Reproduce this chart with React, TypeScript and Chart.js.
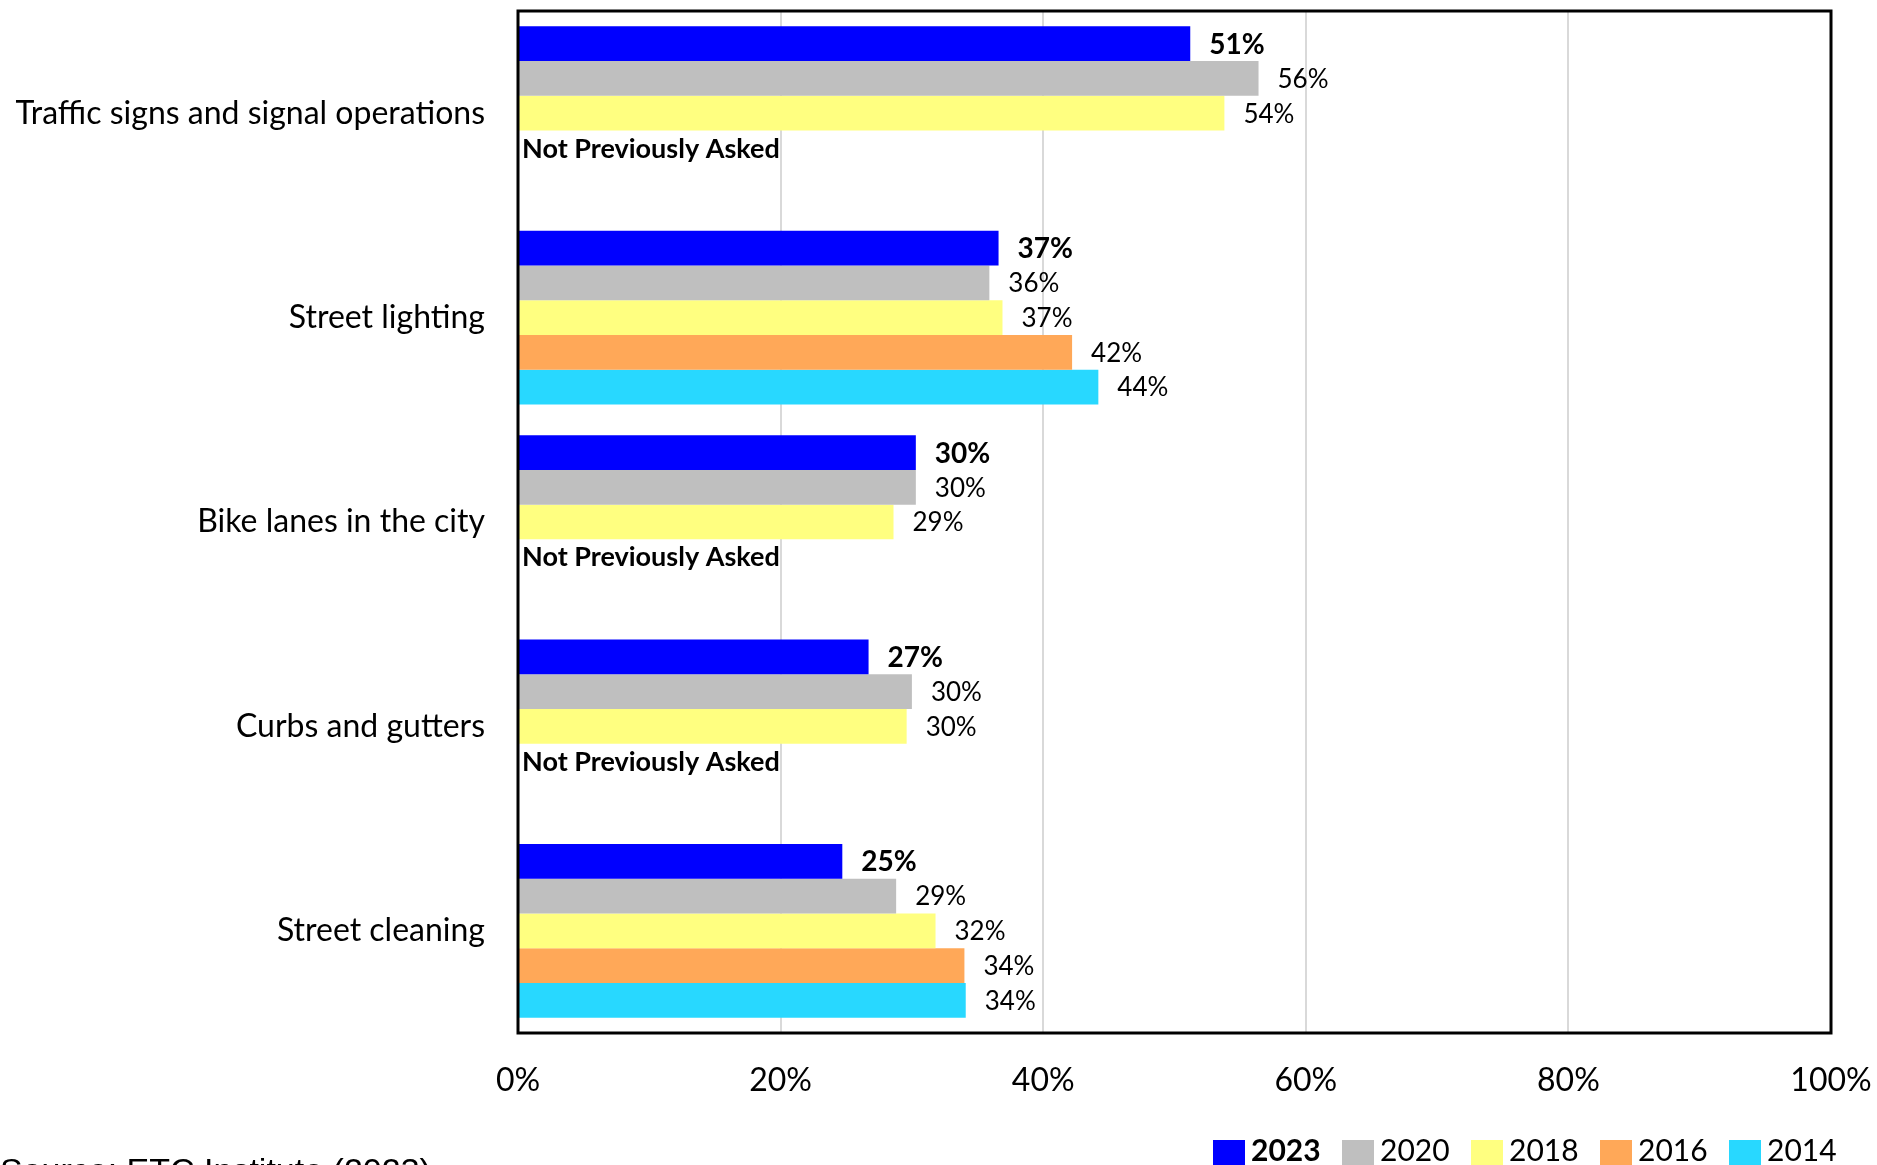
import React, { useEffect, useRef } from "react";
import { Chart, registerables } from "chart.js";

Chart.register(...registerables);

const categories = [
  "Traffic signs and signal operations",
  "Street lighting",
  "Bike lanes in the city",
  "Curbs and gutters",
  "Street cleaning",
];
const years = ["2023", "2020", "2018", "2016", "2014"];
const values2023 = [51.2, 36.6, 30.3, 26.7, 24.7];
const values2020 = [56.4, 35.9, 30.3, 30.0, 28.8];
const values2018 = [53.8, 36.9, 28.6, 29.6, 31.8];
const values2016 = [null, 42.2, null, null, 34.0];
const values2014 = [null, 44.2, null, null, 34.1];
const colors = ["#0000FF", "#BFBFBF", "#FFFF80", "#FFA858", "#28D8FF"];
const xTicks = [0, 20, 40, 60, 80, 100];
const notAskedText = "Not Previously Asked";
const sourceText = "Source: ETC Institute (2023)";

const FONT = "Lato, 'Open Sans', sans-serif";

const boxPlugin = {
  id: "plotBox",
  afterDatasetsDraw(chart: any) {
    const { ctx, chartArea } = chart;
    const a = chartArea;
    ctx.save();
    chart.data.datasets.forEach((ds: any, di: number) => {
      const meta = chart.getDatasetMeta(di);
      meta.data.forEach((el: any, i: number) => {
        const v = ds.data[i];
        if (v === null || v === undefined) return;
        ctx.font = (di === 0 ? "bold 28px " : "26px ") + FONT;
        ctx.fillStyle = "#000";
        ctx.textAlign = "left";
        ctx.textBaseline = "middle";
        ctx.fillText(Math.round(v) + "%", el.x + 19, el.y + 1);
      });
    });
    const m1 = chart.getDatasetMeta(1);
    const m2 = chart.getDatasetMeta(2);
    chart.data.datasets[3].data.forEach((v: any, i: number) => {
      if (v !== null && v !== undefined) return;
      const y = m2.data[i].y + (m2.data[i].y - m1.data[i].y);
      ctx.font = "bold 27px " + FONT;
      ctx.fillStyle = "#000";
      ctx.textAlign = "left";
      ctx.textBaseline = "middle";
      ctx.fillText(notAskedText, a.left + 4, y + 1);
    });
    ctx.strokeStyle = "#000";
    ctx.lineWidth = 3;
    ctx.strokeRect(a.left, a.top, a.right - a.left, a.bottom - a.top);
    ctx.restore();
  },
};

const zeroPad = (scale: any) => {
  scale.paddingLeft = 0;
  scale.paddingRight = 0;
  scale.paddingTop = 0;
  scale.paddingBottom = 0;
};

export default function App() {
  const ref = useRef<HTMLCanvasElement | null>(null);
  useEffect(() => {
    const data = [values2023, values2020, values2018, values2016, values2014];
    const chart = new Chart(ref.current as HTMLCanvasElement, {
      type: "bar",
      data: {
        labels: categories,
        datasets: years.map((y, i) => ({
          label: y,
          data: data[i],
          backgroundColor: colors[i],
          borderWidth: 0,
          categoryPercentage: 0.85,
          barPercentage: 1,
        })),
      },
      options: {
        indexAxis: "y",
        animation: false,
        responsive: false,
        layout: { padding: { left: 0, right: 46, top: 11, bottom: 52 } },
        plugins: { legend: { display: false }, tooltip: { enabled: false } },
        scales: {
          x: {
            min: 0,
            max: 100,
            afterBuildTicks: (scale: any) => {
              scale.ticks = xTicks.map((v) => ({ value: v }));
            },
            afterFit: (scale: any) => {
              scale.height = 80;
              zeroPad(scale);
            },
            grid: { color: "#D9D9D9", lineWidth: 2, drawTicks: false },
            border: { display: false },
            ticks: {
              padding: 28,
              color: "#000",
              font: { family: FONT, size: 32 },
              callback: (v: any) => v + "%",
            },
          },
          y: {
            afterFit: (scale: any) => {
              scale.width = 518;
              zeroPad(scale);
            },
            grid: { display: false, drawTicks: false },
            border: { display: false },
            ticks: {
              padding: 33,
              color: "#000",
              font: { family: FONT, size: 32 },
            },
          },
        },
      },
      plugins: [boxPlugin],
    } as any);
    return () => chart.destroy();
  }, []);

  return (
    <div
      style={{
        position: "fixed",
        left: 0,
        top: 0,
        width: 1877,
        height: 1165,
        overflow: "hidden",
        background: "#fff",
        fontFamily: FONT,
      }}
    >
      <canvas ref={ref} width={1877} height={1165} style={{ display: "block", width: 1877, height: 1165 }} />
      <div style={{ position: "absolute", left: 1213, top: 1134, display: "flex", lineHeight: 1 }}>
        {years.map((y, i) => (
          <div key={y} style={{ width: 129, display: "flex", alignItems: "flex-start" }}>
            <div style={{ width: 32, height: 26, marginTop: 6, marginRight: 6, background: colors[i] }} />
            <span style={{ fontSize: 30, fontWeight: i === 0 ? "bold" : "normal", color: "#000" }}>{y}</span>
          </div>
        ))}
      </div>
      <div
        style={{
          position: "absolute",
          left: 0,
          top: 1153,
          fontSize: 34,
          lineHeight: 1,
          color: "#000",
          whiteSpace: "nowrap",
          fontFamily: "'Liberation Sans', Arial, sans-serif",
        }}
      >
        {sourceText}
      </div>
    </div>
  );
}
